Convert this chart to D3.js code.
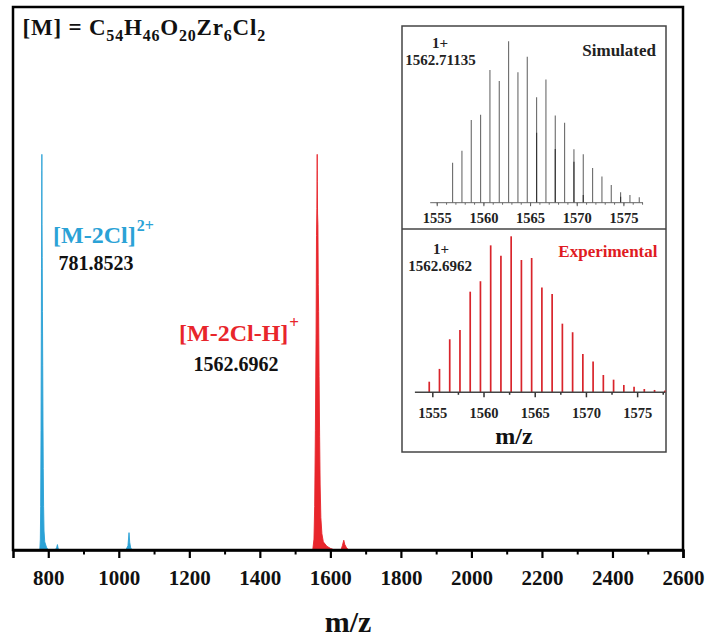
<!DOCTYPE html>
<html><head><meta charset="utf-8">
<script src="https://cdn.jsdelivr.net/npm/d3@7"></script>
<style>body{margin:0;background:#fff}svg text{font-family:"Liberation Serif","Times New Roman",serif;font-weight:bold}</style>
</head><body>
<svg id="c" width="710" height="642"></svg>
<script>
// ---------- data ----------
const mainTicks = [800,1000,1200,1400,1600,1800,2000,2200,2400,2600];
const mainMinorTicks = [900,1100,1300,1500,1700,1900,2100,2300,2500];
// [M-2Cl]2+ profile (blue) and small features
const blueMz  = [776,777.5,778.5,779.5,780.3,780.8,781.35,781.7,781.85,782.0,782.35,782.85,783.5,784.3,785,785.8,786.8,788,790,795,800,820,824,826,828,832,1020,1026,1029,1031,1034,1040];
const blueInt = [0,2,8,22,40,52,62,70,73,69,60,54,44,34,24,15,8,3.5,1.5,0.5,0,0,0.5,1.0,0.3,0,0,0.8,3.2,1.4,0.3,0];
// [M-2Cl-H]+ profile (red)
const redMz  = [1550,1553.5,1555.5,1557.5,1559.5,1560.7,1561.7,1562.5,1562.7,1562.9,1563.7,1564.7,1565.7,1566.7,1568,1569.5,1571,1573,1576,1580,1590,1600,1612,1630,1634,1638,1641,1646,1652];
const redInt = [0,2,8,22,40,58,63,70,73,68,62,60,49,44,32,21,12,6,3,1.5,0.7,0.3,0,0,0.8,1.8,1.0,0.4,0];
const mainLabels = {blue:"[M-2Cl]", blueCharge:"2+", blueMass:"781.8523", red:"[M-2Cl-H]", redCharge:"+", redMass:"1562.6962"};
// inset: simulated isotope pattern
const simMz  = [1556.7,1557.7,1558.7,1559.7,1560.7,1561.7,1562.7,1563.7,1564.7,1565.7,1566.7,1567.7,1568.7,1569.7,1570.7,1571.7,1572.7,1573.7,1574.7,1575.7,1576.7];
const simInt = [0.248,0.322,0.512,0.545,0.822,0.754,1.0,0.808,0.905,0.653,0.764,0.541,0.496,0.331,0.300,0.215,0.163,0.110,0.064,0.048,0.033];
const simDarkMz  = [1565.7,1567.7,1569.7,1570.7,1574.7];
const simDarkInt = [0.434,0.333,0.254,0.048,0.037];
// inset: experimental isotope pattern
const expMz  = [1554.7,1555.7,1556.7,1557.7,1558.7,1559.7,1560.7,1561.7,1562.7,1563.7,1564.7,1565.7,1566.7,1567.7,1568.7,1569.7,1570.7,1571.7,1572.7,1573.7,1574.7,1575.7,1576.7,1577.7];
const expInt = [0.068,0.150,0.340,0.400,0.645,0.712,0.942,0.876,1.0,0.848,0.861,0.671,0.630,0.440,0.385,0.246,0.197,0.111,0.081,0.047,0.036,0.021,0.015,0.011];
const insetTicks = [1555,1560,1565,1570,1575];
const simMinorTicks = [1555,1556,1557,1558,1559,1560,1561,1562,1563,1564,1565,1566,1567,1568,1569,1570,1571,1572,1573,1574,1575,1576,1577];
const expMinorTicks = [1557.5,1562.5,1567.5,1572.5,1577.5];

// ---------- drawing ----------
const svg = d3.select("#c");
const BLUE = "#2ba2d6", RED = "#e8252b";

const x = d3.scaleLinear([700,2600],[13,683]);
const y = d3.scaleLinear([0,100],[550,8]);

const area = d3.area().x(d=>x(d[0])).y0(y(0)).y1(d=>y(d[1]));
const blueData = blueMz.map((m,i)=>[m,blueInt[i]]);
const redData = redMz.map((m,i)=>[m,redInt[i]]);
svg.append("path").attr("d",area(blueData)).attr("fill",BLUE).attr("stroke",BLUE).attr("stroke-width",0.9);
svg.append("path").attr("d",area(redData)).attr("fill",RED).attr("stroke",RED).attr("stroke-width",0.9);

// frame
svg.append("rect").attr("x",13).attr("y",7).attr("width",670).attr("height",543)
  .attr("fill","none").attr("stroke","#000").attr("stroke-width",2.5);

// main axis
const ax = svg.append("g").attr("transform","translate(0,550)")
  .call(d3.axisBottom(x).tickValues(mainTicks).tickSize(8).tickPadding(11.6).tickFormat(d3.format("d")));
ax.select(".domain").attr("stroke-width",2.5);
ax.selectAll(".tick line").attr("stroke-width",2.2);
ax.selectAll(".tick text").attr("font-size",21).attr("fill","#111");
const axm = svg.append("g").attr("transform","translate(0,550)")
  .call(d3.axisBottom(x).tickValues(mainMinorTicks).tickSize(4.5).tickFormat(""));
axm.select(".domain").remove();
axm.selectAll(".tick line").attr("stroke-width",2);

svg.append("text").attr("x",348).attr("y",632).attr("text-anchor","middle").attr("font-size",30).attr("fill","#111").text("m/z");

// title formula
const title = svg.append("text").attr("x",22.5).attr("y",35).attr("font-size",23).attr("fill","#111").attr("letter-spacing",0.8);
const parts = [["[M] = C",0],["54",1],["H",0],["46",1],["O",0],["20",1],["Zr",0],["6",1],["Cl",0],["2",1]];
let prevSub = 0;
parts.forEach(([t,s])=>{
  const ts = title.append("tspan").text(t);
  if (s) { ts.attr("font-size",16).attr("dy", prevSub?0:6); }
  else { ts.attr("dy", prevSub?-6:0); }
  prevSub = s;
});

// peak labels
const lb = svg.append("text").attr("x",53).attr("y",243).attr("font-size",24).attr("fill",BLUE);
lb.append("tspan").text(mainLabels.blue);
lb.append("tspan").attr("font-size",16).attr("dy",-12).attr("dx",1).text(mainLabels.blueCharge);
svg.append("text").attr("x",96).attr("y",270).attr("text-anchor","middle").attr("font-size",20).attr("fill","#111").text(mainLabels.blueMass);
const lr = svg.append("text").attr("x",179).attr("y",341).attr("font-size",24).attr("fill",RED);
lr.append("tspan").text(mainLabels.red);
lr.append("tspan").attr("font-size",17).attr("dy",-13).attr("dx",1).text(mainLabels.redCharge);
svg.append("text").attr("x",236).attr("y",371).attr("text-anchor","middle").attr("font-size",20).attr("fill","#111").text(mainLabels.redMass);

// ---------- inset ----------
svg.append("rect").attr("x",402).attr("y",26).attr("width",264).attr("height",426)
  .attr("fill","#fff").attr("stroke","#444").attr("stroke-width",1.5);
svg.append("line").attr("x1",402).attr("x2",666).attr("y1",229).attr("y2",229).attr("stroke","#444").attr("stroke-width",1.5);

// simulated
const xs = d3.scaleLinear([1554.3,1577.1],[430.2,643]);
const ys = d3.scaleLinear([0,1],[202.7,41.3]);
svg.append("g").selectAll("line").data(simMz.map((m,i)=>[m,simInt[i]])).join("line")
  .attr("x1",d=>xs(d[0])).attr("x2",d=>xs(d[0])).attr("y1",ys(0)).attr("y2",d=>ys(d[1]))
  .attr("stroke","#6a6a6a").attr("stroke-width",1.1);
svg.append("g").selectAll("line").data(simDarkMz.map((m,i)=>[m,simDarkInt[i]])).join("line")
  .attr("x1",d=>xs(d[0])).attr("x2",d=>xs(d[0])).attr("y1",ys(0)).attr("y2",d=>ys(d[1]))
  .attr("stroke","#333").attr("stroke-width",1.1);
const sa = svg.append("g").attr("transform","translate(0,202.7)")
  .call(d3.axisBottom(xs).tickValues(insetTicks).tickSize(3.5).tickPadding(7).tickFormat(d3.format("d")));
sa.select(".domain").attr("stroke","#666").attr("d","M430.2,0H643");
sa.selectAll(".tick line").attr("stroke","#555");
sa.selectAll(".tick text").attr("font-size",14.5).attr("fill","#222");
const sam = svg.append("g").attr("transform","translate(0,202.7)")
  .call(d3.axisBottom(xs).tickValues(simMinorTicks).tickSize(2).tickFormat(""));
sam.select(".domain").remove();
sam.selectAll(".tick line").attr("stroke","#666");
svg.append("text").attr("x",440).attr("y",48).attr("text-anchor","middle").attr("font-size",15).attr("fill","#222").text("1+");
svg.append("text").attr("x",440.5).attr("y",65).attr("text-anchor","middle").attr("font-size",15).attr("fill","#222").text("1562.71135");
svg.append("text").attr("x",656).attr("y",56).attr("text-anchor","end").attr("font-size",17).attr("fill","#222").text("Simulated");

// experimental
const xe = d3.scaleLinear([1553.3,1577.77],[414.9,665.5]);
const ye = d3.scaleLinear([0,1],[392.3,236.3]);
svg.append("g").selectAll("line").data(expMz.map((m,i)=>[m,expInt[i]])).join("line")
  .attr("x1",d=>xe(d[0])).attr("x2",d=>xe(d[0])).attr("y1",ye(0)).attr("y2",d=>ye(d[1]))
  .attr("stroke","#d9242b").attr("stroke-width",1.7);
const ea = svg.append("g").attr("transform","translate(0,392.3)")
  .call(d3.axisBottom(xe).tickValues(insetTicks).tickSize(5).tickPadding(10.5).tickFormat(d3.format("d")));
ea.select(".domain").attr("stroke","#444").attr("stroke-width",1.5).attr("d","M414.9,0H665.5");
ea.selectAll(".tick line").attr("stroke","#333").attr("stroke-width",1.5);
ea.selectAll(".tick text").attr("font-size",14.5).attr("fill","#222");
const eam = svg.append("g").attr("transform","translate(0,392.3)")
  .call(d3.axisBottom(xe).tickValues(expMinorTicks).tickSize(2.5).tickFormat(""));
eam.select(".domain").remove();
eam.selectAll(".tick line").attr("stroke","#333").attr("stroke-width",1.5);
svg.append("text").attr("x",441).attr("y",253.5).attr("text-anchor","middle").attr("font-size",15).attr("fill","#222").text("1+");
svg.append("text").attr("x",440).attr("y",271).attr("text-anchor","middle").attr("font-size",15).attr("fill","#222").text("1562.6962");
svg.append("text").attr("x",657.5).attr("y",257).attr("text-anchor","end").attr("font-size",17).attr("fill","#e01b22").text("Experimental");
svg.append("text").attr("x",514).attr("y",444).attr("text-anchor","middle").attr("font-size",24).attr("fill","#111").text("m/z");
</script>
</body></html>
